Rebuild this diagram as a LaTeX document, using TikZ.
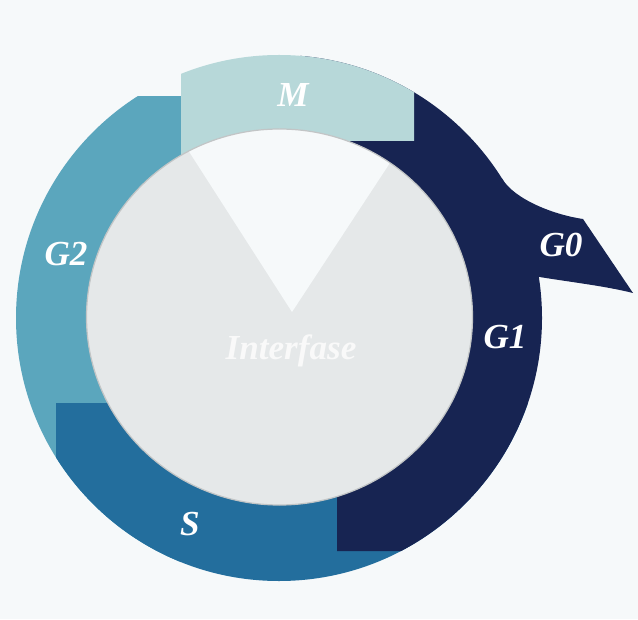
\documentclass[tikz,border=0pt]{standalone}
\usepackage{fontspec}
\setmainfont{Liberation Serif}
\usetikzlibrary{calc}
\definecolor{paper}{HTML}{F6F9FA}
\definecolor{mphase}{HTML}{B7D8D9}
\definecolor{gtwo}{HTML}{5BA6BD}
\definecolor{sphase}{HTML}{236E9D}
\definecolor{gone}{HTML}{172452}
\definecolor{core}{HTML}{E5E8E9}
\definecolor{rim}{HTML}{C2C5C6}
\tikzset{
  phaselabel/.style={font=\fontsize{20}{24}\selectfont\bfseries\itshape,
    text=white,inner sep=0pt,anchor=base},
  corelabel/.style={phaselabel,text=white!75!core}}

\begin{document}
\begin{tikzpicture}[x=.02cm,y=.02cm]
\useasboundingbox (0,0) rectangle (638,619);
\fill[paper] (0,0) rectangle (638,619);
\coordinate (o) at (279,301);
\coordinate (c) at (279.5,302);
\coordinate (apex) at (292,307);
% G0 tail
\fill[gone] ($(o)+(32:263)$) .. controls (515,419) and (555,404) .. (583,400)
  -- (633,326) .. controls (605,333) and (570,337) .. ($(o)+(9:263)$)
  -- (500,350) -- cycle;
% ring
\begin{scope}
\clip (o) circle (263);
\fill[gtwo] (0,523) rectangle (181,0);
\fill[sphase] (56,216) rectangle (638,0);
\fill[gone] (300,630) -- (638,630) -- (638,68) -- (337,68) -- (337,240)
  -- (300,240) -- cycle;
\fill[mphase] (181,630) -- (414,630) -- (414,478) -- (300,478) -- (300,420)
  -- (181,420) -- cycle;
\end{scope}
% interfase disc
\fill[core] (c) ellipse [x radius=193,y radius=188];
\begin{scope}
\clip (c) ellipse [x radius=193,y radius=188];
\fill[paper] (apex) -- ($(apex)+(56.7:300)$) -- ($(apex)+(122.7:300)$) -- cycle;
\end{scope}
\draw[rim,line width=.7pt] (c) ellipse [x radius=193,y radius=188];
\node[phaselabel] (m) at (293,512) {M};
\node[phaselabel] (g2) at (66,354) {G2};
\node[phaselabel] (g0) at (561,362) {G0};
\node[phaselabel] (g1) at (505,271) {G1};
\node[phaselabel] (s) at (190,84) {S};
\node[corelabel] (interfase) at (291,260) {Interfase};
\end{tikzpicture}
\end{document}
